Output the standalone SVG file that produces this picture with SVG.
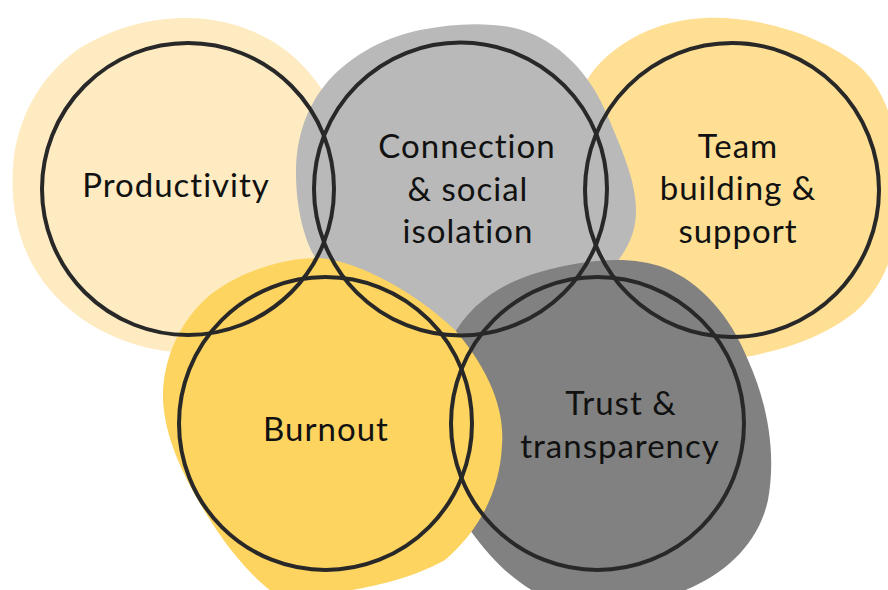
<svg xmlns="http://www.w3.org/2000/svg" width="888" height="590" viewBox="0 0 888 590">
  <style>
    .ring { fill: none; stroke: #282828; stroke-width: 4; }
    .label { font-family: Lato, "Open Sans", "Liberation Sans", sans-serif; font-size: 33px; letter-spacing: 1px; fill: #111111; text-anchor: middle; }
  </style>

  <!-- soft background shapes, painted back to front -->
  <g id="backdrop">
    <path id="blob-productivity" fill="#FEEBC1"
      d="M 187,18 C 230,18 270,35 295,58 C 310,72 320,85 328,100 L 360,200 L 345,290 C 300,335 240,356 173,352 C 125,347 80,325 50,290 C 20,255 10,210 13,167 C 16,120 40,75 80,48 C 115,27 150,18 187,18 Z"/>
    <path id="blob-team" fill="#FEDF93"
      d="M 587,80 C 605,50 650,20 705,18 C 760,16 820,35 858,65 C 890,92 905,150 900,210 C 895,262 878,292 855,312 C 825,336 785,351 738,358 L 690,320 L 620,290 L 605,250 L 600,160 L 585,95 Z"/>
    <path id="blob-connection" fill="#B8B9B8"
      d="M 296,173 C 296,140 305,110 325,85 C 345,60 380,38 420,30 C 450,24 480,22 510,27 C 550,35 585,65 605,110 C 620,145 636,180 636,210 C 636,230 630,245 617,262 L 600,300 L 460,345 L 360,300 L 320,265 C 305,245 296,210 296,173 Z"/>
    <path id="blob-trust" fill="#808180"
      d="M 452,338 C 468,306 500,283 540,272 C 580,260 630,254 665,268 C 700,282 730,315 748,360 C 766,400 777,450 768,500 C 757,550 715,585 655,600 L 555,600 C 525,592 495,565 470,530 L 440,400 Z"/>
    <path id="blob-burnout" fill="#FDD45F"
      d="M 320,258 C 360,262 415,292 455,330 C 485,365 505,405 502,445 C 500,490 480,530 445,560 C 400,585 355,588 325,596 L 285,600 C 265,590 235,560 210,520 C 185,480 165,440 163,400 C 162,360 180,320 210,295 C 240,272 280,258 320,258 Z"/>
  </g>

  <g id="node-productivity">
    <circle class="ring" cx="188" cy="189" r="146"/>
    <text class="label" x="176" y="197">Productivity</text>
  </g>

  <g id="node-connection">
    <circle class="ring" cx="460.5" cy="189" r="146.5"/>
    <text class="label" x="467" y="158">Connection</text>
    <text class="label" x="468" y="201">&amp; social</text>
    <text class="label" x="468" y="243">isolation</text>
  </g>

  <g id="node-team">
    <circle class="ring" cx="732" cy="190" r="147"/>
    <text class="label" x="738" y="158">Team</text>
    <text class="label" x="738" y="200">building &amp;</text>
    <text class="label" x="738" y="243">support</text>
  </g>

  <g id="node-burnout">
    <circle class="ring" cx="325.5" cy="423.5" r="146.5"/>
    <text class="label" x="326" y="441">Burnout</text>
  </g>

  <g id="node-trust">
    <circle class="ring" cx="597.5" cy="423.5" r="146.5"/>
    <text class="label" x="621" y="415">Trust &amp;</text>
    <text class="label" x="620" y="458">transparency</text>
  </g>
</svg>
